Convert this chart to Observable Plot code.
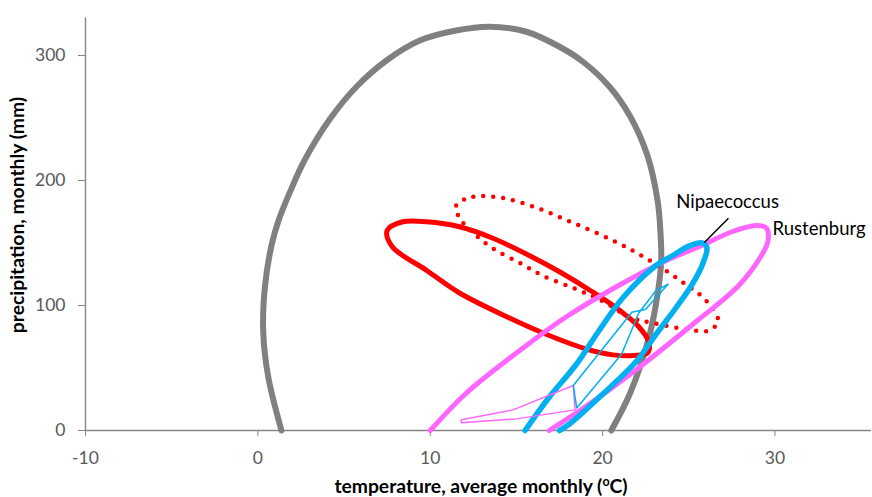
<!DOCTYPE html>
<html><head><meta charset="utf-8">
<script src="https://cdn.jsdelivr.net/npm/d3@7"></script>
<script src="https://cdn.jsdelivr.net/npm/@observablehq/plot@0.6"></script>
<style>body{margin:0;background:#fff;} svg{display:block;}</style>
</head><body><div id="chart"></div>
<script>
// Series values: temperature (°C) and precipitation (mm)
const grayTemp   = [1.37,0.6,0.31,0.41,0.79,1.2,1.9,2.7,4.17,5.72,7.46,9.39,11.5,13.45,15.58,17.5,18.86,20.4,21.57,22.6,23.2,23.35,23.4,23.2,22.7,21.6,20.5];
const grayPrecip = [0,43,79,115,148,168,192,216,249,275,296,312,320,323,319,307,295,275,252,220,183,160,136,110,75,30,0];

const redTemp   = [7.5,8.4,9.8,11.7,13.6,15.6,17.5,19.4,21.0,22.1,22.7,22.6,21.8,20.6,19.1,16.9,14.6,11.7,9.8,7.8];
const redPrecip = [160,167,167,163,154,141,127,111,96,83,70,62,60,60.5,65,76,90,110,128,147];

const dotTemp   = [11.5,12.5,14.2,16.2,18.3,20.6,22.5,24.5,26.0,26.7,26.2,24.9,22.9,21.7,19.8,18.3,16.5,15.2,13.6,12.5,11.7];
const dotPrecip = [180,187,186,178,166,152,138,120,104,88,80,81,86,90,105,114,124,134,146,158,170];

const rustTemp   = [10.0,12.1,15.0,17.9,20.8,23.7,25.6,27.5,28.9,29.5,29.6,29.3,27.9,25.5,21.7,19.0,16.9];
const rustPrecip = [0,30,62,91,115,136,147,159,164,162,152,142,116,88,46,19,0];

const nipaTemp   = [15.5,16.9,18.5,19.8,21.2,23.1,24.07,25.0,25.8,26.05,25.8,25.2,24.3,23.1,22.0,20.0,18.1,17.5];
const nipaPrecip = [0,26.6,53.4,80,106.6,132,140,147.5,150,146,133,117,99,77,56,29,5.4,0];

const thinBlueTemp   = [18.3,21.7,22.5,23.8,23.1,22.1,21.1,18.5];
const thinBluePrecip = [36,94.6,97,117,112,94,61,18];

const thinPinkTemp   = [18.3,14.8,11.8,11.8,15.0,18.4];
const thinPinkPrecip = [36,16.5,8.6,6.2,9.3,16.5];

const xTicks = [-10,0,10,20,30];
const yTicks = [0,100,200,300];

const labels = [
  {name:"Nipaecoccus", t:24.27, p:182.5},
  {name:"Rustenburg",  t:29.86, p:161.5}
];
const leader = [{t1:25.9, p1:150.4, t2:27.3, p2:169.8}];

const zip = (xs, ys) => xs.map((x,i)=>({t:x, p:ys[i]}));

const FONT = "Lato, 'Open Sans', sans-serif";
const fmt = d => `${d}`;

const svg = Plot.plot({
  width: 872, height: 497,
  marginLeft: 85, marginRight: 1, marginTop: 17.5, marginBottom: 67,
  style: {fontFamily: FONT, fontSize: "17.5px", background: "#fff"},
  x: {domain: [-10, 35.6], ticks: xTicks, label: null},
  y: {domain: [0, 330], ticks: yTicks, label: null},
  marks: [
    Plot.ruleY([0], {stroke: "#868686", strokeWidth: 1.4}),
    Plot.ruleX([-10], {y1: 0, y2: 330, stroke: "#868686", strokeWidth: 1.4}),
    Plot.axisX({ticks: xTicks, tickFormat: fmt, tickSize: 6, tickPadding: 15, stroke: "#868686", fill: "#595959", label: null, fontSize: 17.5}),
    Plot.axisY({ticks: yTicks, tickFormat: fmt, tickSize: 7, tickPadding: 13, stroke: "#868686", fill: "#595959", label: null, fontSize: 17.5}),
    Plot.line(zip(grayTemp, grayPrecip), {x:"t", y:"p", stroke:"#808080", strokeWidth:6, curve:"catmull-rom"}),
    Plot.line(zip(dotTemp, dotPrecip), {x:"t", y:"p", stroke:"#FF0000", strokeWidth:4.5, strokeDasharray:"0 10", strokeLinecap:"round", curve:"catmull-rom-closed"}),
    Plot.line(zip(redTemp, redPrecip), {x:"t", y:"p", stroke:"#FF0000", strokeWidth:5, curve:"catmull-rom-closed"}),
    Plot.line(zip(rustTemp, rustPrecip), {x:"t", y:"p", stroke:"#FF66FF", strokeWidth:5, curve:"catmull-rom"}),
    Plot.line(zip(nipaTemp, nipaPrecip), {x:"t", y:"p", stroke:"#00B0F0", strokeWidth:5.5, curve:"catmull-rom"}),
    Plot.line(zip(thinPinkTemp, thinPinkPrecip), {x:"t", y:"p", stroke:"#FF66FF", strokeWidth:1.5, curve:"linear-closed"}),
    Plot.line(zip(thinBlueTemp, thinBluePrecip), {x:"t", y:"p", stroke:"#00B0F0", strokeWidth:1.5, curve:"linear-closed"}),
    Plot.link(leader, {x1:"t1", y1:"p1", x2:"t2", y2:"p2", stroke:"#000", strokeWidth:1.5}),
    Plot.text(labels, {x:"t", y:"p", text:"name", textAnchor:"start", fill:"#000", fontSize:18.5, fontFamily: FONT})
  ]
});

// axis titles (bold, with superscript)
const s = d3.select(svg);
s.append("text")
  .attr("x", 481).attr("y", 493)
  .attr("text-anchor", "middle")
  .attr("font-family", FONT).attr("font-weight", "bold").attr("font-size", 19.3)
  .attr("fill", "#000")
  .call(t => {
    t.append("tspan").text("temperature, average monthly (");
    t.append("tspan").attr("font-size", 12.5).attr("dy", -7).text("o");
    t.append("tspan").attr("dy", 7).text("C)");
  });
s.append("text")
  .attr("transform", "translate(24,215) rotate(-90)")
  .attr("text-anchor", "middle")
  .attr("font-family", FONT).attr("font-weight", "bold").attr("font-size", 19.3)
  .attr("fill", "#000")
  .text("precipitation, monthly (mm)");

document.getElementById("chart").append(svg);
</script>
</body></html>
